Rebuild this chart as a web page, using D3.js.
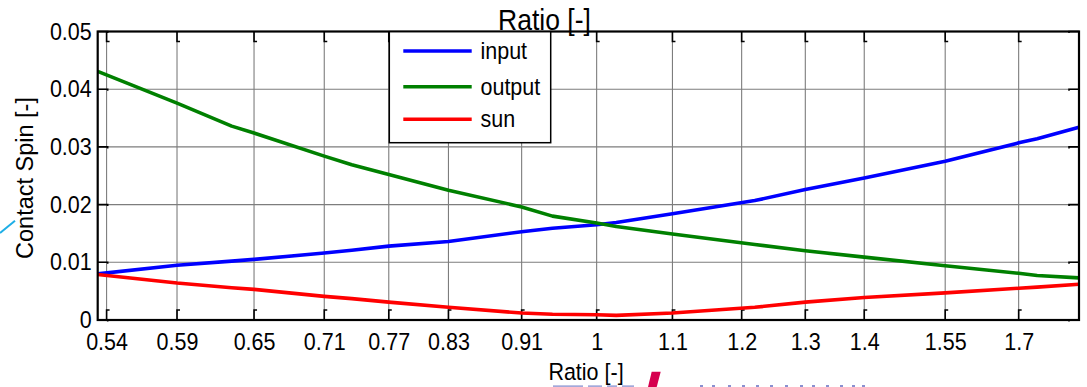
<!DOCTYPE html>
<html><head><meta charset="utf-8">
<script src="https://cdn.jsdelivr.net/npm/d3@7"></script>
<style>
body{margin:0;background:#fff;}
svg{display:block;font-family:Arial,"Liberation Sans",sans-serif;}
</style>
</head><body>
<svg id="c" width="1087" height="387"></svg>
<script>
// ---- data ----
const ratio      = [0.534, 0.59, 0.632, 0.65, 0.71, 0.735, 0.77, 0.83, 0.91, 0.946, 1.0, 1.025, 1.1, 1.22, 1.3, 1.4, 1.55, 1.7, 1.74, 1.834];
const inputSpin  = [0.0080,0.0095,0.0102,0.0105,0.0116,0.0121,0.0128,0.0136,0.0153,0.0159,0.0165,0.0169,0.0184,0.0207,0.0226,0.0246,0.0275,0.0307,0.0314,0.0334];
const outputSpin = [0.0431,0.0376,0.0336,0.0324,0.0284,0.0269,0.0252,0.0225,0.0196,0.0180,0.0168,0.0162,0.0149,0.0131,0.0120,0.0109,0.0094,0.0081,0.0077,0.0073];
const sunSpin    = [0.0079,0.0064,0.0056,0.0053,0.0041,0.0037,0.0031,0.0022,0.0012,0.0010,0.0009,0.0008,0.0012,0.0022,0.0031,0.0039,0.0047,0.0055,0.0057,0.0062];
const seriesNames = ["input","output","sun"];
const xTickValues = [0.54,0.59,0.65,0.71,0.77,0.83,0.91,1,1.1,1.2,1.3,1.4,1.55,1.7];
const xTickLabels = ["0.54","0.59","0.65","0.71","0.77","0.83","0.91","1","1.1","1.2","1.3","1.4","1.55","1.7"];
const yTickValues = [0,0.01,0.02,0.03,0.04,0.05];
const yTickLabels = ["0","0.01","0.02","0.03","0.04","0.05"];
const titleText = "Ratio [-]";
const xLabelText = "Ratio [-]";
const yLabelText = "Contact Spin [-]";

// ---- styles ----
const seriesColors = ["#0000ff","#008000","#ff0000"];
const L = 97.7, R = 1079, T = 31.5, B = 320;
const stretch = "scale(1,1.08)";

const svg = d3.select("#c");
const x = d3.scaleLog().domain([0.534, 1.834]).range([L, R]);
const y = d3.scaleLinear().domain([0, 0.05]).range([B, T]);

// grid
const grid = svg.append("g");
grid.selectAll("line.vx").data(xTickValues).join("line")
  .attr("x1", d => x(d)).attr("x2", d => x(d)).attr("y1", T).attr("y2", B)
  .attr("stroke", "#7d7d7d").attr("stroke-width", 1.1);
grid.selectAll("line.hy").data(yTickValues.slice(1, -1)).join("line")
  .attr("x1", L).attr("x2", R).attr("y1", d => y(d)).attr("y2", d => y(d))
  .attr("stroke", "#7d7d7d").attr("stroke-width", 1.1);

// inward ticks with small nubs (MATLAB-like)
const tk = svg.append("g").attr("stroke", "#000").attr("stroke-width", 1.6).attr("fill", "none");
xTickValues.forEach(v => {
  const px = x(v);
  tk.append("path").attr("d", `M${px},${T}V${T+10}h3`);
  tk.append("path").attr("d", `M${px},${B}V${B-10}h3`);
});
yTickValues.forEach(v => {
  const py = y(v);
  tk.append("path").attr("d", `M${L},${py}H${L+10}v1.5`);
  tk.append("path").attr("d", `M${R},${py}H${R-10}v1.5`);
});

// series
const seriesData = [inputSpin, outputSpin, sunSpin];
const line = d3.line().x(d => x(d[0])).y(d => y(d[1]));
seriesData.forEach((vals, i) => {
  svg.append("path")
    .datum(ratio.map((r, j) => [r, vals[j]]))
    .attr("d", line)
    .attr("fill", "none")
    .attr("stroke", seriesColors[i])
    .attr("stroke-width", 3.6)
    .attr("stroke-linejoin", "round");
});

// axes box
svg.append("rect").attr("x", L).attr("y", T).attr("width", R - L).attr("height", B - T)
  .attr("fill", "none").attr("stroke", "#000").attr("stroke-width", 2.2);

// tick labels
const xAxis = d3.axisBottom(x).tickValues(xTickValues)
  .tickFormat((d, i) => xTickLabels[i]).tickSize(0).tickPadding(0);
const gx = svg.append("g").attr("transform", `translate(0,${B})`).call(xAxis);
gx.select(".domain").remove();
gx.selectAll(".tick text").attr("font-size", "21.5px").attr("fill", "#000")
  .attr("font-family", "Arial, 'Liberation Sans', sans-serif").attr("dy", 0).attr("y", 0)
  .attr("transform", "translate(0,30) " + stretch);

const yAxis = d3.axisLeft(y).tickValues(yTickValues)
  .tickFormat((d, i) => yTickLabels[i]).tickSize(0).tickPadding(6);
const gy = svg.append("g").attr("transform", `translate(${L},0)`).call(yAxis);
gy.select(".domain").remove();
gy.selectAll(".tick text").attr("font-size", "21.5px").attr("fill", "#000")
  .attr("font-family", "Arial, 'Liberation Sans', sans-serif").attr("dy", "0.33em")
  .attr("transform", stretch);

// legend
const lg = svg.append("g");
lg.append("rect").attr("x", 389.3).attr("y", 31.7).attr("width", 161.4).attr("height", 111)
  .attr("fill", "#fff").attr("stroke", "#000").attr("stroke-width", 1.5);
const legY = [51, 86.7, 119.3];
seriesNames.forEach((n, i) => {
  lg.append("line").attr("x1", 403.3).attr("x2", 471.7).attr("y1", legY[i]).attr("y2", legY[i])
    .attr("stroke", seriesColors[i]).attr("stroke-width", 3.6);
  lg.append("text").attr("transform", `translate(480.5,${legY[i] + 8}) ${stretch}`)
    .attr("font-size", "21.5px").attr("fill", "#000").text(n);
});

// title and labels
svg.append("text").attr("transform", `translate(544.5,30) ${stretch}`).attr("text-anchor", "middle")
  .attr("font-size", "26.5px").attr("fill", "#000").text(titleText);
svg.append("text").attr("transform", `translate(586,380) ${stretch}`).attr("text-anchor", "middle")
  .attr("font-size", "21.5px").attr("fill", "#000").text(xLabelText);
svg.append("text").attr("transform", "translate(33,178) rotate(-90)").attr("text-anchor", "middle")
  .attr("font-size", "23.5px").attr("fill", "#000").text(yLabelText);

// slide artifacts (cut-off logo fragments)
svg.append("line").attr("x1", 0).attr("y1", 233).attr("x2", 15).attr("y2", 220.7)
  .attr("stroke", "#1eaee6").attr("stroke-width", 2);
svg.append("polygon").attr("points", "651.7,371.7 660.7,371.7 656.7,387 648,387").attr("fill", "#d6004f");
const deco = svg.append("g").attr("fill", "#a3a9da");
[[553,30],[588,14],[607,10],[622,12]].forEach(s => deco.append("rect").attr("x", s[0]).attr("y", 385.3).attr("width", s[1]).attr("height", 1.7));
const deco2 = svg.append("g").attr("fill", "#8a90d0");
[700,712,728,742,756,770,785,800,812,826,840,852,862].forEach(px => deco2.append("rect").attr("x", px).attr("y", 385).attr("width", 3).attr("height", 2));
</script>
</body></html>
